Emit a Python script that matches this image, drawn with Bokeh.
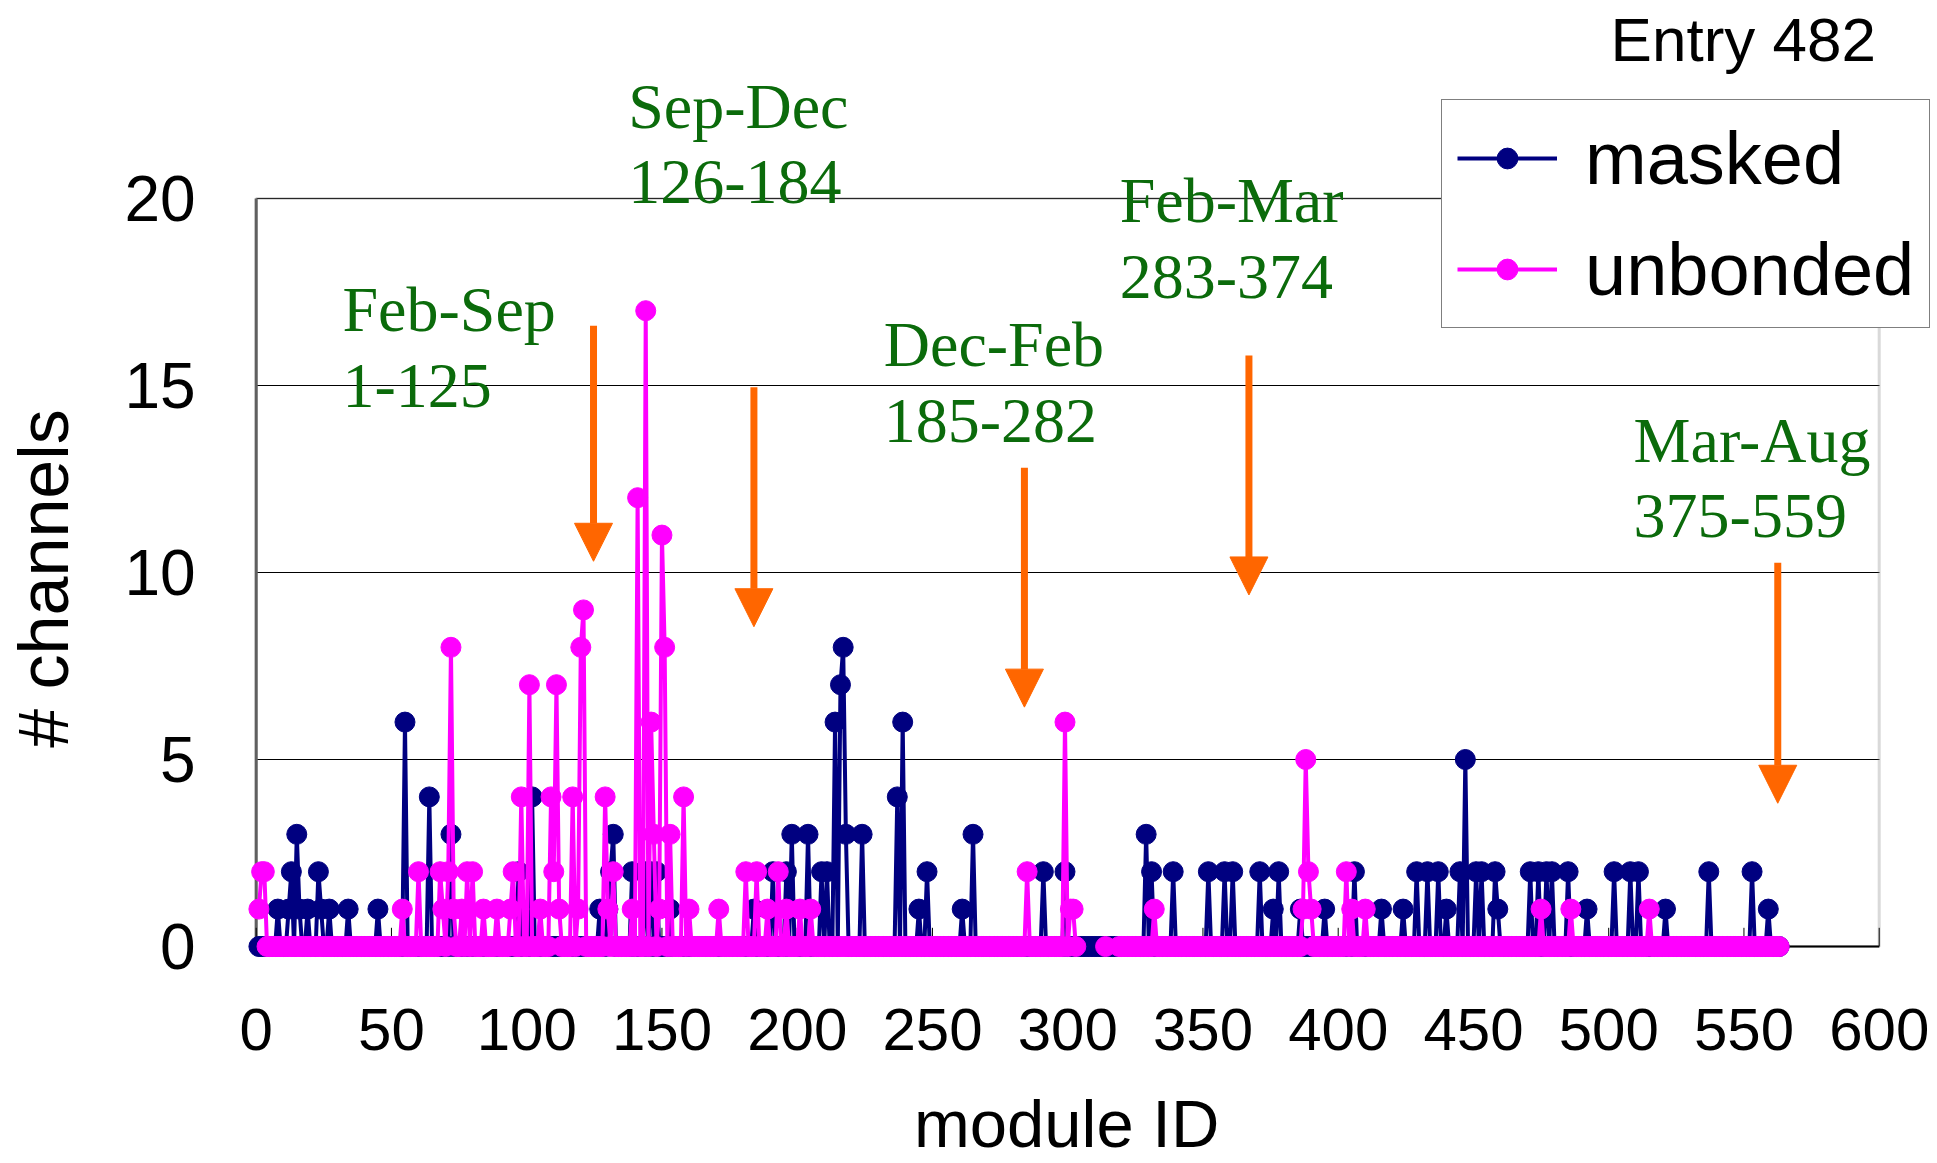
import math
import numpy as np
from bokeh.plotting import figure
from bokeh.models import (Range1d, Label, Arrow, NormalHead, Legend, LegendItem,
                          BoxAnnotation, FixedTicker, ColumnDataSource, Grid)
from bokeh.core.properties import value
from bokeh.embed import file_html
from bokeh.resources import INLINE

# ---------------- data ----------------
n_modules = 563
masked_ids = [8, 12, 13, 15, 16, 19, 23, 24, 27, 34, 45, 55, 64, 72, 97, 102, 127, 130, 131, 132,
              139, 144, 146, 148, 153, 184, 191, 196, 198, 204, 209, 211, 214, 216, 217, 218, 224,
              237, 239, 245, 248, 261, 265, 291, 299, 329, 331, 339, 352, 358, 361, 371, 376, 378,
              386, 395, 406, 416, 424, 429, 433, 437, 440, 445, 447, 451, 453, 458, 459, 471, 474,
              477, 479, 485, 492, 502, 508, 511, 521, 537, 553, 559]
masked_vals = [1, 1, 2, 3, 1, 1, 2, 1, 1, 1, 1, 6, 4, 3, 2, 4, 1, 1, 2, 3,
               2, 2, 2, 2, 1, 1, 2, 2, 3, 3, 2, 2, 6, 7, 8, 3, 3,
               4, 6, 1, 2, 1, 3, 2, 2, 3, 2, 2, 2, 2, 2, 2, 1, 2,
               1, 1, 2, 1, 1, 2, 2, 2, 1, 2, 5, 2, 2, 2, 1, 2, 2,
               2, 2, 2, 1, 2, 2, 2, 1, 2, 2, 1]
unbonded_ids = [1, 2, 3, 54, 60, 68, 69, 71, 72, 73, 76, 78, 80, 84, 89, 94, 95, 98, 101, 105,
                109, 110, 111, 112, 117, 119, 120, 121, 129, 130, 132, 139, 141, 144, 146, 147,
                149, 150, 151, 153, 158, 160, 171, 181, 185, 189, 193, 196, 201, 205, 285, 299,
                301, 302, 332, 387, 388, 389, 390, 403, 405, 410, 475, 486, 515]
unbonded_vals = [1, 2, 2, 1, 2, 2, 1, 2, 8, 1, 1, 2, 2, 1, 1, 1, 2, 4, 7, 1,
                 4, 2, 7, 1, 4, 1, 8, 9, 4, 1, 2, 1, 12, 17, 6, 3,
                 1, 11, 8, 3, 4, 1, 1, 2, 2, 1, 2, 1, 1, 1, 2, 6,
                 1, 1, 1, 1, 5, 2, 1, 2, 1, 1, 1, 1, 1]
unbonded_missing = list(range(304, 314)) + list(range(315, 319))

x_ticks = list(range(0, 601, 50))
y_ticks = [0, 5, 10, 15, 20]
x_tick_labels = [str(t) for t in x_ticks]
y_tick_labels = [str(t) for t in y_ticks]

periods = ["Feb-Sep", "Sep-Dec", "Dec-Feb", "Feb-Mar", "Mar-Aug"]
period_ranges = ["1-125", "126-184", "185-282", "283-374", "375-559"]
period_label_x = [31.9, 137.5, 232.0, 319.2, 509.2]
period_label_y = [17.02, 22.47, 16.09, 19.94, 13.54]
arrow_x = [124.7, 184.0, 284.0, 367.0, 562.5]
arrow_top = [16.6, 14.95, 12.8, 15.8, 10.26]
arrow_tip = [10.3, 8.55, 6.4, 9.4, 3.83]

# ---------------- build series ----------------
modules = np.arange(1, n_modules + 1)
masked = np.zeros(n_modules)
for i, v in zip(masked_ids, masked_vals):
    masked[i - 1] = v
unbonded = np.zeros(n_modules)
for i, v in zip(unbonded_ids, unbonded_vals):
    unbonded[i - 1] = v
for i in unbonded_missing:
    unbonded[i - 1] = np.nan

NAVY = "#000080"
MAGENTA = "#FF00FF"
ORANGE = "#FF6600"
GREEN = "#0B6B0B"
SANS = "Liberation Sans"
SERIF = "Liberation Serif"

W, H = 1937, 1163
X0PX, XPU = 255.7, 2.705      # pixel of x=0, pixels per module
Y0PX, YPU = 946.0, 37.4       # pixel of y=0, pixels per channel

p = figure(width=W, height=H, output_backend="svg", toolbar_location=None,
           x_range=Range1d(-X0PX / XPU, (W - X0PX) / XPU),
           y_range=Range1d((Y0PX - H) / YPU, Y0PX / YPU),
           x_axis_location=None, y_axis_location=None,
           min_border=0, background_fill_color="white", border_fill_color="white")
p.outline_line_color = None
for r in list(p.center):
    if isinstance(r, Grid):
        r.visible = False

# grid lines and plot-area box
p.add_layout(Grid(dimension=1, ticker=FixedTicker(ticks=y_ticks[1:]), cross_bounds=(0, 600),
                  grid_line_color="black", grid_line_width=1))
p.add_layout(BoxAnnotation(left=0, right=600, bottom=0, top=20, fill_alpha=0,
                           line_color="#808080", line_width=3, level="underlay"))
# axis lines and tick marks
p.segment(x0=[0], y0=[0], x1=[0], y1=[20], line_color="#606060", line_width=3)
p.segment(x0=[0], y0=[0], x1=[600], y1=[0], line_color="black", line_width=2)
p.segment(x0=x_ticks, y0=[0] * len(x_ticks), x1=x_ticks, y1=[0.5] * len(x_ticks),
          line_color="black", line_width=1)

# tick labels
p.text(x=x_ticks, y=[-2.22] * len(x_ticks), text=x_tick_labels, text_font=value(SANS),
       text_font_size="60px", text_color="black", text_align="center", text_baseline="middle")
p.text(x=[-22.4] * len(y_ticks), y=y_ticks, text=y_tick_labels, text_font=value(SANS),
       text_font_size="64px", text_color="black", text_align="right", text_baseline="middle")

# series
src_m = ColumnDataSource(dict(x=modules, y=masked))
src_u = ColumnDataSource(dict(x=modules, y=unbonded))
lm = p.line("x", "y", source=src_m, line_color=NAVY, line_width=4)
sm = p.scatter("x", "y", source=src_m, size=20, fill_color=NAVY, line_color=NAVY)
lu = p.line("x", "y", source=src_u, line_color=MAGENTA, line_width=4)
su = p.scatter("x", "y", source=src_u, size=20, fill_color=MAGENTA, line_color=MAGENTA)

# arrows
for ax_, top, tip in zip(arrow_x, arrow_top, arrow_tip):
    p.add_layout(Arrow(end=NormalHead(size=38, fill_color=ORANGE, line_color=ORANGE),
                       x_start=ax_, y_start=top, x_end=ax_, y_end=tip,
                       line_color=ORANGE, line_width=7))

# period labels
line_gap = 2.03
for name, rng, lx, ly in zip(periods, period_ranges, period_label_x, period_label_y):
    p.add_layout(Label(x=lx, y=ly, text=name, text_font=SERIF, text_font_size="64px",
                       text_color=GREEN, text_baseline="alphabetic"))
    p.add_layout(Label(x=lx, y=ly - line_gap, text=rng, text_font=SERIF, text_font_size="64px",
                       text_color=GREEN, text_baseline="alphabetic"))

# title / axis labels
p.add_layout(Label(x=500.7, y=24.25, text="Entry 482", text_font=SANS, text_font_size="62px",
                   text_color="black", text_baseline="alphabetic"))
p.add_layout(Label(x=299.6, y=-4.72, text="module ID", text_font=SANS, text_font_size="67px",
                   text_color="black", text_align="center", text_baseline="alphabetic"))
p.add_layout(Label(x=-78.4, y=9.84, text="# channels", text_font=SANS, text_font_size="70px",
                   text_color="black", text_align="center", text_baseline="middle",
                   angle=math.pi / 2))

legend = Legend(items=[LegendItem(label="masked", renderers=[lm, sm]),
                       LegendItem(label="unbonded", renderers=[lu, su])],
                location=(1441, 835), orientation="vertical")
legend.label_text_font = SANS
legend.label_text_font_size = "74px"
legend.label_text_color = "black"
legend.glyph_width = 100
legend.glyph_height = 52
legend.label_height = 86
legend.label_standoff = 28
legend.spacing = 25
legend.padding = 15
legend.margin = 0
legend.border_line_color = "black"
legend.border_line_width = 1.5
legend.background_fill_color = "white"
legend.background_fill_alpha = 1.0
p.add_layout(legend)

open("out.html", "w").write(file_html(p, INLINE))
